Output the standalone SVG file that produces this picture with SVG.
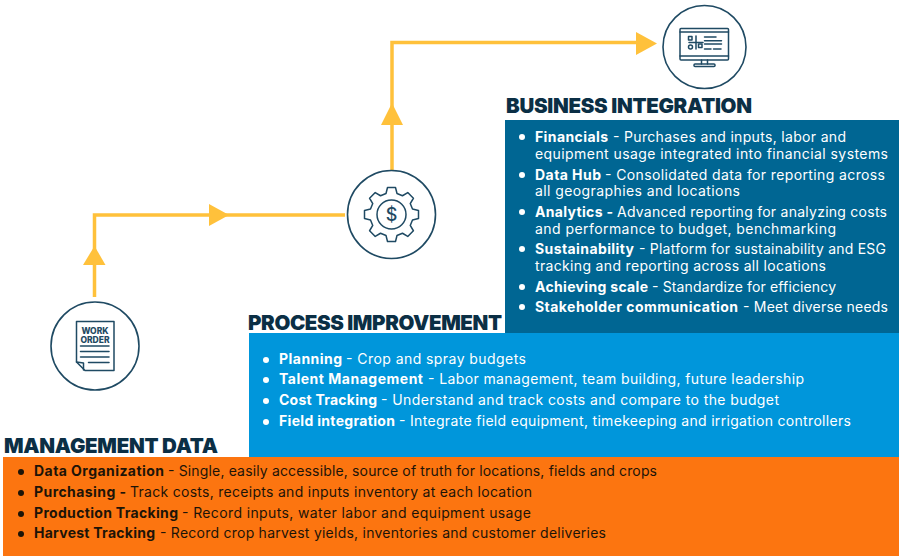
<svg xmlns="http://www.w3.org/2000/svg" width="904" height="556" viewBox="0 0 904 556">
<style>
text{font-family:"Inter","Open Sans","Liberation Sans",sans-serif}
.h{font-size:20.500px;font-weight:900;fill:#0b2f45}
.w{font-size:14px;fill:#fff}
.k{font-size:14px;fill:#1c1408}
.b{font-weight:700}
.ic{fill:none;stroke:#1f4a63;stroke-width:1.5;stroke-linejoin:round;stroke-linecap:round}
.ring{fill:#fff;stroke:#1f4a63;stroke-width:1.6}
.conn{fill:none;stroke:#ffc13b;stroke-width:3.500}
.tip{fill:#ffc13b}
.dw{fill:#fff}.dk{fill:#1c1408}
</style>
<rect width="904" height="556" fill="#fff"/>
<g id="connectors">
<path class="conn" d="M94.500 297V215H345"/>
<path class="conn" d="M392 171V42.500H640"/>
<path class="tip" d="M94.500 246L105.500 265H83z"/>
<path class="tip" d="M229 215L209 204V226z"/>
<path class="tip" d="M392 103L403 125H381z"/>
<path class="tip" d="M657 43.500L636 32V55z"/>
</g>
<g id="panel-business">
<rect x="505" y="120" width="394" height="214" fill="#006693"/>
<text class="h" x="506" y="113" textLength="246">BUSINESS INTEGRATION</text>
<g class="dw"><circle cx="522" cy="137" r="3"/><circle cx="522" cy="175" r="3"/><circle cx="522" cy="212" r="3"/><circle cx="522" cy="249" r="3"/><circle cx="522" cy="287" r="3"/><circle cx="522" cy="307" r="3"/></g>
<text class="w" y="142"><tspan class="b" x="535" textLength="73">Financials</tspan><tspan x="613" textLength="233">- Purchases and inputs, labor and</tspan></text>
<text class="w" x="535" y="159" textLength="353">equipment usage integrated into financial systems</text>
<text class="w" y="180"><tspan class="b" x="535" textLength="66">Data Hub</tspan><tspan x="605" textLength="280">- Consolidated data for reporting across</tspan></text>
<text class="w" x="535" y="196" textLength="205">all geographies and locations</text>
<text class="w" y="217"><tspan class="b" x="535" textLength="78">Analytics -</tspan><tspan x="617" textLength="270">Advanced reporting for analyzing costs</tspan></text>
<text class="w" x="535" y="234" textLength="301">and performance to budget, benchmarking</text>
<text class="w" y="254"><tspan class="b" x="535" textLength="99">Sustainability</tspan><tspan x="639" textLength="247">- Platform for sustainability and ESG</tspan></text>
<text class="w" x="535" y="271" textLength="291">tracking and reporting across all locations</text>
<text class="w" y="292"><tspan class="b" x="535" textLength="113">Achieving scale</tspan><tspan x="652" textLength="184">- Standardize for efficiency</tspan></text>
<text class="w" y="312"><tspan class="b" x="535" textLength="203">Stakeholder communication</tspan><tspan x="743" textLength="145">- Meet diverse needs</tspan></text>
</g>
<g id="panel-process">
<rect x="249" y="333" width="650" height="124" fill="#0096db"/>
<text class="h" x="248" y="330" textLength="254">PROCESS IMPROVEMENT</text>
<g class="dw"><circle cx="266" cy="360" r="3"/><circle cx="266" cy="380" r="3"/><circle cx="266" cy="401" r="3"/><circle cx="266" cy="422" r="3"/></g>
<text class="w" y="364"><tspan class="b" x="279" textLength="63">Planning</tspan><tspan x="346" textLength="180">- Crop and spray budgets</tspan></text>
<text class="w" y="384"><tspan class="b" x="279" textLength="144">Talent Management</tspan><tspan x="428" textLength="376">- Labor management, team building, future leadership</tspan></text>
<text class="w" y="405"><tspan class="b" x="279" textLength="98">Cost Tracking</tspan><tspan x="381" textLength="398">- Understand and track costs and compare to the budget</tspan></text>
<text class="w" y="426"><tspan class="b" x="279" textLength="116">Field integration</tspan><tspan x="399" textLength="452">- Integrate field equipment, timekeeping and irrigation controllers</tspan></text>
</g>
<g id="panel-management">
<rect x="3" y="457" width="896" height="99" fill="#fc7510"/>
<text class="h" x="4" y="453" textLength="214">MANAGEMENT DATA</text>
<g class="dk"><circle cx="21" cy="472" r="3"/><circle cx="21" cy="493" r="3"/><circle cx="21" cy="514" r="3"/><circle cx="21" cy="534" r="3"/></g>
<text class="k" y="476"><tspan class="b" x="34" textLength="130">Data Organization</tspan><tspan x="168" textLength="489">- Single, easily accessible, source of truth for locations, fields and crops</tspan></text>
<text class="k" y="497"><tspan class="b" x="34" textLength="92">Purchasing -</tspan><tspan x="130" textLength="402">Track costs, receipts and inputs inventory at each location</tspan></text>
<text class="k" y="518"><tspan class="b" x="34" textLength="144">Production Tracking</tspan><tspan x="182" textLength="349">- Record inputs, water labor and equipment usage</tspan></text>
<text class="k" y="538"><tspan class="b" x="34" textLength="121">Harvest Tracking</tspan><tspan x="160" textLength="446">- Record crop harvest yields, inventories and customer deliveries</tspan></text>
</g>
<g id="node-work-order">
<circle class="ring" cx="95" cy="346" r="44"/>
<path class="ic" d="M76.500 321.500H114V370.500H85L76.500 362Z"/>
<path class="ic" d="M76.500 362L83.500 363V370"/>
<path class="ic" d="M80.500 346H109M80.500 351.500H109M80.500 357H109M88.500 362.500H109"/>
<text x="95" y="334" text-anchor="middle" font-size="8.500" font-weight="800" fill="#1f4a63">WORK</text>
<text x="95" y="342.500" text-anchor="middle" font-size="8.500" font-weight="800" fill="#1f4a63">ORDER</text>
</g>
<g id="node-finance">
<circle class="ring" cx="391.500" cy="214.500" r="44"/>
<polygon class="ic" transform="translate(391.500 214.500)" points="-5.500,-21 -4,-27 4,-27 5.500,-21 10.960,-18.740 16.260,-21.920 21.920,-16.260 18.740,-10.960 21,-5.500 27,-4 27,4 21,5.500 18.740,10.960 21.920,16.260 16.260,21.920 10.960,18.740 5.500,21 4,27 -4,27 -5.500,21 -10.960,18.740 -16.260,21.920 -21.920,16.260 -18.740,10.960 -21,5.500 -27,4 -27,-4 -21,-5.500 -18.740,-10.960 -21.920,-16.260 -16.260,-21.920 -10.960,-18.740"/>
<circle class="ic" cx="391.500" cy="214.500" r="14.500"/>
<text x="391.500" y="221" text-anchor="middle" font-size="18" font-weight="500" fill="#1f4a63">$</text>
</g>
<g id="node-systems">
<circle class="ring" cx="704.500" cy="47" r="41.500"/>
<rect class="ic" x="680" y="28.500" width="48.500" height="31.500" rx="1"/>
<path class="ic" d="M680 32H728.500M680 56H728.500"/>
<path class="ic" d="M701.500 60V64M707.500 60V64"/>
<rect class="ic" x="694" y="64" width="21" height="2.500" rx="1"/>
<path class="ic" d="M696 36V49M689 42.500H703M704.500 37H716M704.500 40.700H721.500M704.500 44H721.500M704.500 49H711M713.500 49H721"/>
<rect class="ic" x="688.500" y="36.500" width="3.500" height="3.500"/>
<rect class="ic" x="698.500" y="44" width="3.500" height="3.500"/>
<circle class="ic" cx="690.500" cy="47" r="2"/>
</g>
</svg>
